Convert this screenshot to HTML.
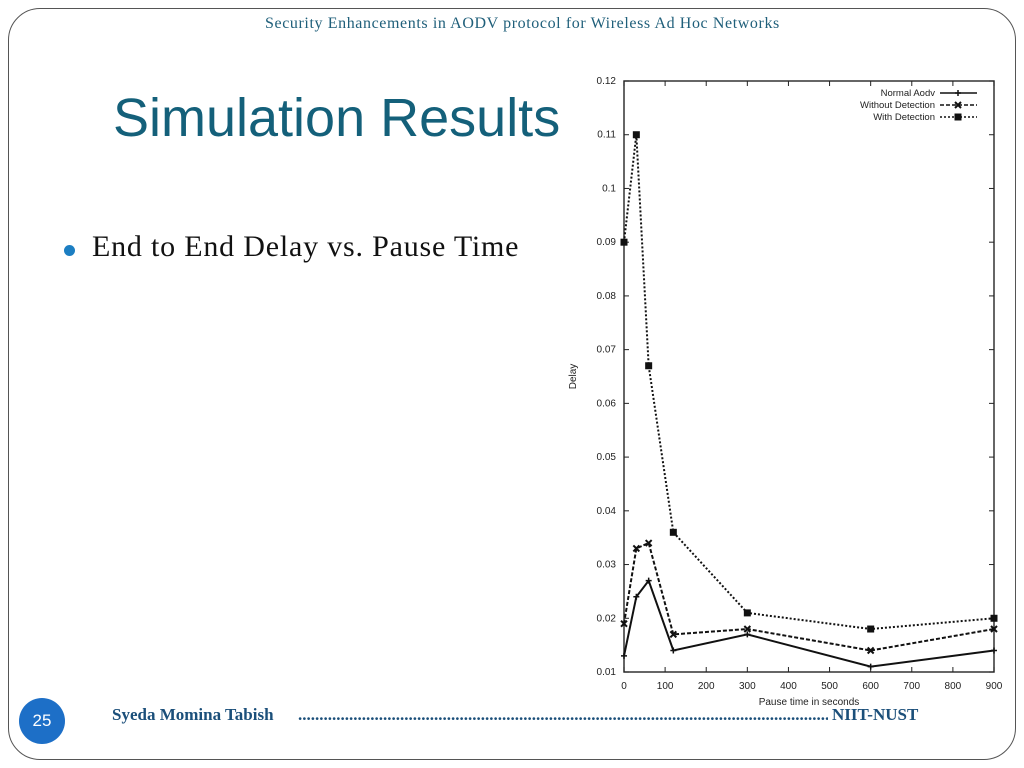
<!DOCTYPE html>
<html><head><meta charset="utf-8"><style>
body{margin:0;width:1024px;height:768px;background:#fff;position:relative;overflow:hidden;font-family:"Liberation Serif",serif}
.frame{position:absolute;left:8px;top:8px;width:1006px;height:750px;border:1.5px solid #555;border-radius:32px}
.hdr{position:absolute;top:15px;left:265px;width:540px;white-space:nowrap;color:#1f5f7a;font-size:16px;letter-spacing:0.6px}
h1{position:absolute;left:113px;top:87px;margin:0;font:54px "Liberation Sans",sans-serif;color:#14607a;font-weight:normal}
.bul{position:absolute;left:92px;top:230px;font-size:30px;color:#111;letter-spacing:0.8px;white-space:nowrap}
.dot{position:absolute;left:64px;top:245px;width:11px;height:11px;border-radius:50%;background:#1c7ec2}
.pg{position:absolute;left:19px;top:698px;width:46px;height:46px;border-radius:50%;background:#1d6fc7;color:#fff;font:17px "Liberation Sans",sans-serif;text-align:center;line-height:46px}
.ft{position:absolute;top:705px;color:#1b4f7a;font-size:17px;font-weight:bold;white-space:nowrap}
.dots{position:absolute;left:298px;top:705px;width:530px;overflow:hidden;white-space:nowrap;color:#1b4f7a;font-size:17px;font-weight:bold}
</style></head><body>
<div class="frame"></div>
<div class="hdr">Security Enhancements in AODV protocol for Wireless Ad Hoc Networks</div>
<h1>Simulation Results</h1>
<div class="dot"></div>
<div class="bul">End to End Delay vs. Pause Time</div>
<div class="pg">25</div>
<div class="ft" style="left:112px">Syeda Momina Tabish</div>
<div class="dots">..........................................................................................................................................................</div>
<div class="ft" style="left:832px">NIIT-NUST</div>
<svg id="chart" style="position:absolute;left:0;top:0" width="1024" height="768" font-family="Liberation Sans, sans-serif"></svg>
<script>
const xVals=[0,30,60,120,300,600,900];
const normal=[0.013,0.024,0.027,0.014,0.017,0.011,0.014];
const without=[0.019,0.033,0.034,0.017,0.018,0.014,0.018];
const withDet=[0.090,0.110,0.067,0.036,0.021,0.018,0.020];
const xTicks=[0,100,200,300,400,500,600,700,800,900];
const yTicks=[0.01,0.02,0.03,0.04,0.05,0.06,0.07,0.08,0.09,0.1,0.11,0.12];
const L=624,R=994,T=81,B=672;
const sx=v=>L+(v/900)*(R-L);
const sy=v=>B-(v-0.01)/(0.11)*(B-T);
const svg=document.getElementById('chart');const NS='http://www.w3.org/2000/svg';
function mk(t,a){const e=document.createElementNS(NS,t);for(const k in a)e.setAttribute(k,a[k]);svg.appendChild(e);return e;}
const fr=mk('rect',{x:L,y:T,width:R-L,height:B-T,fill:'none',stroke:'#333','stroke-width':1.5});


xTicks.forEach(v=>{mk('line',{x1:sx(v),x2:sx(v),y1:B,y2:B-5,stroke:'#222'});mk('line',{x1:sx(v),x2:sx(v),y1:T,y2:T+5,stroke:'#222'});
const t=mk('text',{x:sx(v),y:B+17,'font-size':10,'text-anchor':'middle',fill:'#222'});t.textContent=v;

});
yTicks.forEach(v=>{mk('line',{x1:L,x2:L+5,y1:sy(v),y2:sy(v),stroke:'#222'});mk('line',{x1:R,x2:R-5,y1:sy(v),y2:sy(v),stroke:'#222'});
const t=mk('text',{x:L-8,y:sy(v)+3,'font-size':10,'text-anchor':'end',fill:'#222'});t.textContent=String(+v.toFixed(2));

});
const xt=mk('text',{x:(L+R)/2,y:B+33,'font-size':10,'text-anchor':'middle',fill:'#222'});xt.textContent='Pause time in seconds';


const yt=mk('text',{x:0,y:0,'font-size':10,'text-anchor':'middle',fill:'#222',transform:`translate(576,${(T+B)/2}) rotate(-90)`});yt.textContent='Delay';


const series=[{d:normal,dash:'',m:'plus',n:'Normal Aodv'},{d:without,dash:'4,2',m:'x',n:'Without Detection'},{d:withDet,dash:'2,2',m:'sq',n:'With Detection'}];
function marker(x,y,m){if(m==='sq')mk('rect',{x:x-3.5,y:y-3.5,width:7,height:7,fill:'#111'});
else if(m==='x'){mk('path',{d:`M${x-3},${y-3}L${x+3},${y+3}M${x-3},${y+3}L${x+3},${y-3}`,stroke:'#111','stroke-width':2});}
else mk('path',{d:`M${x-3},${y}L${x+3},${y}M${x},${y-3}L${x},${y+3}`,stroke:'#111','stroke-width':1.5});}
series.forEach((s,i)=>{const p=mk('polyline',{points:s.d.map((v,j)=>sx(xVals[j])+','+sy(v)).join(' '),fill:'none',stroke:'#111','stroke-width':2,'stroke-dasharray':s.dash});


s.d.forEach((v,j)=>marker(sx(xVals[j]),sy(v),s.m));
const ly=93+i*12;const lt=mk('text',{x:935,y:ly+3,'font-size':9.5,'text-anchor':'end',fill:'#222'});lt.textContent=s.n;


mk('line',{x1:940,x2:977,y1:ly,y2:ly,stroke:'#111','stroke-width':1.5,'stroke-dasharray':s.dash});marker(958,ly,s.m);});
</script>
</body></html>
